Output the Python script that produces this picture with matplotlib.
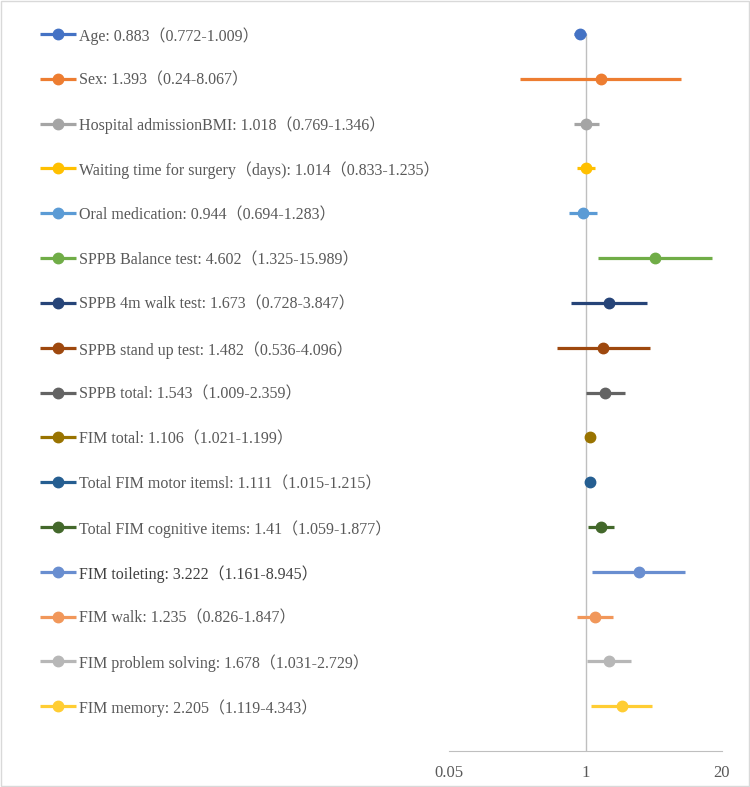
import matplotlib
matplotlib.use("Agg")
import matplotlib.pyplot as plt
import matplotlib.transforms as mtransforms

plt.rcParams['font.family'] = ['Liberation Serif', 'Noto Sans CJK JP']

labels = [
    "Age: 0.883（0.772-1.009）",
    "Sex: 1.393（0.24-8.067）",
    "Hospital admissionBMI: 1.018（0.769-1.346）",
    "Waiting time for surgery（days): 1.014（0.833-1.235）",
    "Oral medication: 0.944（0.694-1.283）",
    "SPPB Balance test: 4.602（1.325-15.989）",
    "SPPB 4m walk test: 1.673（0.728-3.847）",
    "SPPB stand up test: 1.482（0.536-4.096）",
    "SPPB total: 1.543（1.009-2.359）",
    "FIM total: 1.106（1.021-1.199）",
    "Total FIM motor itemsl: 1.111（1.015-1.215）",
    "Total FIM cognitive items: 1.41（1.059-1.877）",
    "FIM toileting: 3.222（1.161-8.945）",
    "FIM walk: 1.235（0.826-1.847）",
    "FIM problem solving: 1.678（1.031-2.729）",
    "FIM memory: 2.205（1.119-4.343）",
]
odds = [0.883, 1.393, 1.018, 1.014, 0.944, 4.602, 1.673, 1.482, 1.543,
        1.106, 1.111, 1.41, 3.222, 1.235, 1.678, 2.205]
lower = [0.772, 0.24, 0.769, 0.833, 0.694, 1.325, 0.728, 0.536, 1.009,
         1.021, 1.015, 1.059, 1.161, 0.826, 1.031, 1.119]
upper = [1.009, 8.067, 1.346, 1.235, 1.283, 15.989, 3.847, 4.096, 2.359,
         1.199, 1.215, 1.877, 8.945, 1.847, 2.729, 4.343]
colors = ["#4472C4", "#ED7D31", "#A5A5A5", "#FFC000", "#5B9BD5", "#70AD47",
          "#264478", "#9E480E", "#636363", "#997300", "#255E91", "#43682B",
          "#698ED0", "#F1975A", "#B7B7B7", "#FFCD33"]
xticks = [0.05, 1, 20]

fig = plt.figure(figsize=(7.5, 7.87), dpi=100)
fig.patches.append(plt.Rectangle((0.001, 0.001), 0.998, 0.998, transform=fig.transFigure,
                                 fill=False, edgecolor="#D9D9D9", linewidth=1))
ax = fig.add_axes([449 / 750, 36 / 787, 273 / 750, 717 / 787])

# legend-like rows on the left: x in figure fraction, y in data units
trans = mtransforms.blended_transform_factory(fig.transFigure, ax.transData)

n = len(labels)
for i in range(n):
    y = n - i
    ax.plot([lower[i], upper[i]], [y, y], color=colors[i], lw=2.3, solid_capstyle='butt',
            clip_on=False, zorder=3)
    ax.plot(odds[i], y, 'o', color=colors[i], ms=7.5, clip_on=False, zorder=4)

    ax.plot([40 / 750, 76 / 750], [y, y], color=colors[i], lw=2.3, solid_capstyle='butt',
            transform=trans, clip_on=False)
    ax.plot([58 / 750], [y], 'o', color=colors[i], ms=7.5, transform=trans, clip_on=False)
    ax.text(79 / 750, y, labels[i], transform=trans, va='center_baseline', ha='left',
            fontsize=11.5, color="#404040" if i == 12 else "#595959")

ax.axvline(1, color="#BFBFBF", lw=1, zorder=1)
ax.set_xscale('log')
ax.set_xlim(0.05, 20)
ax.set_ylim(0, n)
for s in ['top', 'right', 'left']:
    ax.spines[s].set_visible(False)
ax.spines['bottom'].set_color("#BFBFBF")
ax.set_xticks(xticks)
ax.set_xticklabels([str(t) for t in xticks])
ax.xaxis.set_minor_locator(matplotlib.ticker.NullLocator())
ax.tick_params(axis='x', length=0, pad=10, labelsize=12, colors="#595959")
ax.set_yticks([])

fig.savefig("out.png", dpi=100)
